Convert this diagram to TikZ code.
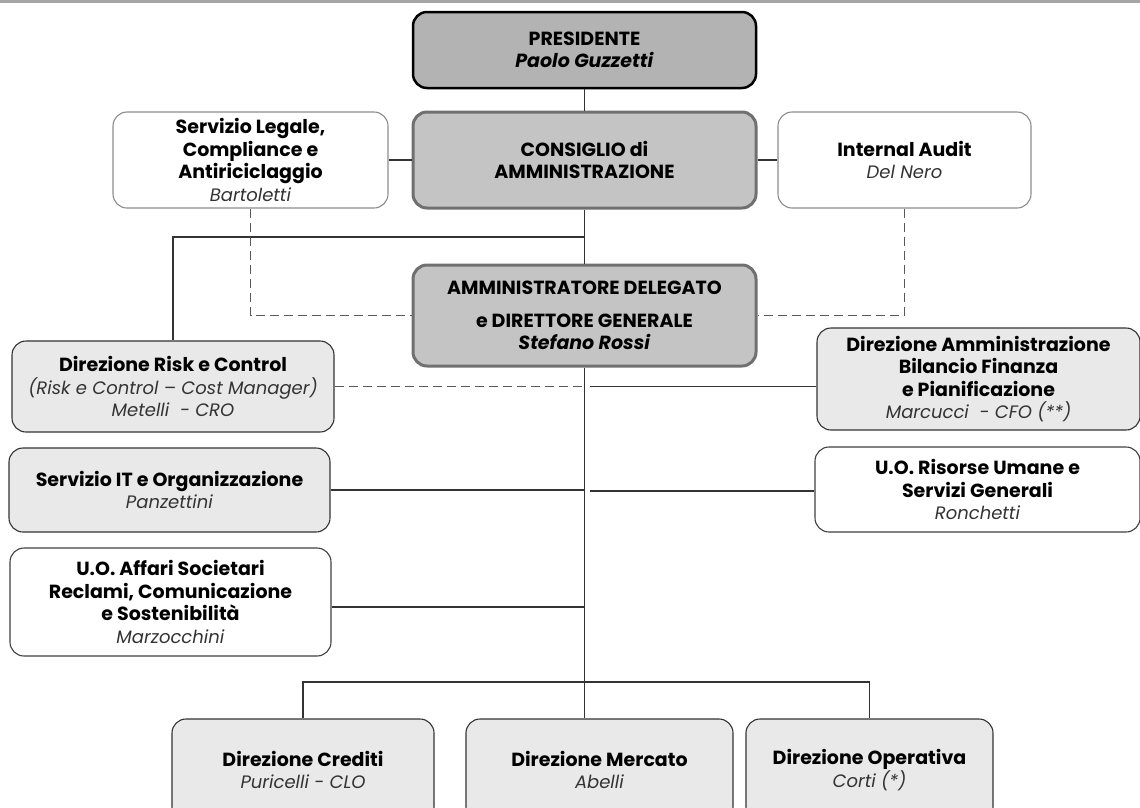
\documentclass[tikz,border=0pt]{standalone}
\usepackage{fontspec}
\setmainfont{Poppins}
\usetikzlibrary{positioning}

\definecolor{topgray}{HTML}{B3B3B3}
\definecolor{midgray}{HTML}{C4C4C4}
\definecolor{lightgray}{HTML}{E9E9E9}
\definecolor{rimgray}{HTML}{707070}
\definecolor{namegray}{HTML}{333333}

\newcommand{\role}[1]{\textbf{#1}}
\newcommand{\who}[1]{{\fontsize{18}{22.5}\selectfont\color{namegray}\textit{#1}}}

\begin{document}
\begin{tikzpicture}[x=1pt,y=-1pt,
    box/.style={draw=#1, rounded corners=14pt, align=center, inner sep=2pt,
        font=\fontsize{19}{22.5}\selectfont},
    headbox/.style={box=rimgray, fill=midgray, line width=3pt},
    plainbox/.style={box=black!75, fill=white, line width=1.1pt},
    greybox/.style={box=black!80, fill=lightgray, line width=1.1pt},
    softbox/.style={box=black!45, fill=white, line width=1.1pt},
    link/.style={black!80, line width=1.3pt},
    dotlink/.style={black!65, line width=1.6pt, dash pattern=on 9pt off 5pt}]
    \useasboundingbox (0,0) rectangle (1140,807);
    \clip (0,0) rectangle (1140,807);

    % page edge at the top
    \draw[black!35, line width=2.5pt] (0,1.5) -- (1140,1.5);

    % board level
    \node[box=black, fill=topgray, line width=2.5pt, minimum width=343pt, minimum height=76pt]
        (pres) at (584.5,50) {\role{PRESIDENTE}\\\textbf{\textit{Paolo Guzzetti}}};
    \node[headbox, minimum width=343pt, minimum height=96pt]
        (cda) at (584.5,160) {\role{CONSIGLIO di}\\\role{AMMINISTRAZIONE}};
    \node[softbox, minimum width=275pt, minimum height=96pt]
        (legale) at (250.5,160) {\role{Servizio Legale,}\\\role{Compliance e}\\\role{Antiriciclaggio}\\\who{Bartoletti}};
    \node[softbox, minimum width=253pt, minimum height=96pt]
        (audit) at (904.5,160) {\role{Internal Audit}\\\who{Del Nero}};
    \node[headbox, minimum width=343pt, minimum height=101pt]
        (ad) at (584.5,315.5) {\role{AMMINISTRATORE DELEGATO}\\[10pt]\role{e DIRETTORE GENERALE}\\\textbf{\textit{Stefano Rossi}}};

    % staff functions
    \node[greybox, minimum width=322pt, minimum height=91pt]
        (risk) at (173,386.5) {\role{Direzione Risk e Control}\\\who{(Risk e Control -- Cost Manager)}\\\who{Metelli\ \ - CRO}};
    \node[greybox, minimum width=323pt, minimum height=102pt]
        (amm) at (978.5,379) {\role{Direzione Amministrazione}\\\role{Bilancio Finanza}\\\role{e Pianificazione}\\\who{Marcucci\ \ - CFO (**)}};
    \node[greybox, minimum width=321pt, minimum height=84pt]
        (it) at (169.5,490) {\role{Servizio IT e Organizzazione}\\\who{Panzettini}};
    \node[plainbox, minimum width=325pt, minimum height=85pt]
        (risorse) at (977.5,489.5) {\role{U.O. Risorse Umane e}\\\role{Servizi Generali}\\\who{Ronchetti}};
    \node[plainbox, minimum width=321pt, minimum height=108pt]
        (affari) at (170.5,602) {\role{U.O. Affari Societari}\\\role{Reclami, Comunicazione}\\\role{e Sostenibilità}\\\who{Marzocchini}};

    % line directions
    \node[greybox, minimum width=262pt, minimum height=102pt]
        (crediti) at (303,770) {\role{Direzione Crediti}\\\who{Puricelli - CLO}};
    \node[greybox, minimum width=267pt, minimum height=102pt]
        (mercato) at (599.5,770) {\role{Direzione Mercato}\\\who{Abelli}};
    \node[greybox, minimum width=247pt, minimum height=102pt]
        (operativa) at (869.5,770) {\role{Direzione Operativa}\\\who{Corti (*)}};

    % top connectors
    \draw[link] (pres) -- (cda);
    \draw[link] (cda.west) -- (legale.east);
    \draw[link] (cda.east) -- (audit.west);
    \draw[link] (cda) -- (ad);
    \coordinate (fork) at (584.5,237);
    \draw[link] (fork) -| (risk.north);

    % dotted reporting
    \draw[dotlink] (legale.south) |- (ad.west);
    \draw[dotlink] (audit.south) |- (ad.east);

    % main trunk
    \coordinate (bus) at (584.5,682);
    \draw[link] (ad.south) -- (bus);
    \draw[dotlink] (risk.east) -- (risk.east -| ad.south);
    \draw[link] (amm.west |- risk.east) -- ([xshift=5pt]ad.south |- risk.east);
    \draw[link] (it.east) -- (it.east -| ad.south);
    \draw[link] ([yshift=-1.5pt]risorse.west) -- ([xshift=5pt,yshift=-1.5pt]ad.south |- risorse.west);
    \draw[link] ([yshift=-5pt]affari.east) -- ([yshift=-5pt]affari.east -| ad.south);

    % bottom bus
    \draw[link] (crediti.north) |- (bus) -| (operativa.north);
    \draw[link] (bus) -- (bus |- mercato.north);
\end{tikzpicture}
\end{document}
